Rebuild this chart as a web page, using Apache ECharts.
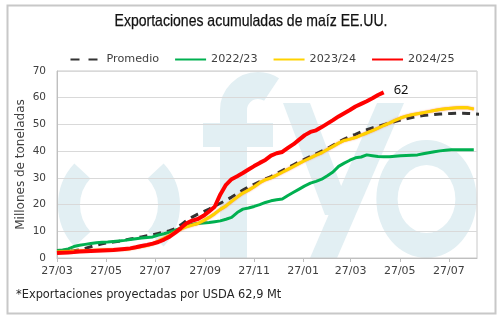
<!DOCTYPE html>
<html>
<head>
<meta charset="utf-8">
<script src="https://cdn.jsdelivr.net/npm/echarts@6/dist/echarts.min.js"></script>
<style>
  html, body { margin: 0; padding: 0; background: #fff; }
  .layer { position: absolute; left: 0; top: 0; width: 502px; height: 322px; }
</style>
</head>
<body>
<div id="logo" class="layer"></div>
<div id="chart" class="layer"></div>
<script>
// Weekly cumulative US corn exports (million tonnes), one value per week from startDate
const startDate = '2024-03-27';
const axisEnd = '2025-08-31';

const seriesNames = ['Promedio', '2022/23', '2023/24', '2024/25'];

const promedio = [
  2.5, 2.5, 2.6, 2.7, 3.0, 3.6, 4.2, 4.8, 5.3, 5.7,
  6.0, 6.3, 6.7, 7.1, 7.5, 7.9, 8.3, 8.7, 9.2, 9.7,
  10.2, 11.0, 12.4, 14.0, 15.3, 16.4, 17.3, 18.3, 19.4, 20.5,
  21.6, 22.8, 24.1, 25.4, 26.6, 27.6, 28.6, 29.6, 30.5, 31.6,
  32.7, 33.8, 34.9, 36.0, 37.0, 38.0, 39.0, 40.0, 41.0, 42.2,
  43.4, 44.5, 45.5, 46.3, 47.2, 48.0, 48.7, 49.3, 49.9, 50.5,
  51.1, 51.6, 52.1, 52.6, 53.0, 53.3, 53.5, 53.7, 53.9, 54.0,
  54.1, 54.2, 54.2, 54.1, 54.0, 53.8
];

const campaign2022 = [
  2.8, 3.0, 3.4, 4.3, 4.8, 5.1, 5.4, 5.7, 5.9, 6.0,
  6.2, 6.4, 6.6, 6.9, 7.2, 7.5, 7.7, 7.9, 8.6, 9.1,
  9.7, 10.4, 11.2, 12.0, 12.6, 12.9, 13.1, 13.3, 13.6, 13.9,
  14.5, 15.2, 17.0, 18.3, 18.7, 19.3, 20.0, 20.8, 21.4, 21.8,
  22.1, 23.4, 24.6, 25.8, 27.0, 28.0, 28.7, 29.5, 30.8, 32.2,
  34.3, 35.5, 36.6, 37.5, 37.8, 38.6, 38.3, 38.0, 37.9, 37.9,
  38.1, 38.3, 38.4, 38.5, 38.6, 39.0, 39.4, 39.8, 40.1, 40.3,
  40.5, 40.5, 40.5, 40.5, 40.5
];

const campaign2023 = [
  2.2, 2.3, 2.4, 2.5, 2.6, 2.7, 2.8, 2.9, 3.0, 3.0,
  3.1, 3.2, 3.3, 3.5, 3.9, 4.3, 4.7, 5.3, 6.3, 7.4,
  8.5, 9.7, 10.8, 11.7, 12.3, 12.9, 14.0, 15.2, 16.6, 18.2,
  19.5, 21.2, 22.8, 24.3, 25.4, 26.7, 28.2, 29.3, 30.0, 31.0,
  32.1, 33.2, 34.3, 35.4, 36.5, 37.5, 38.5, 39.4, 40.6, 41.8,
  43.0, 44.0, 44.5, 45.1, 46.0, 46.8, 47.7, 48.6, 49.6, 50.5,
  51.5, 52.4, 53.1, 53.6, 54.0, 54.4, 54.8, 55.2, 55.6, 55.9,
  56.1, 56.2, 56.3, 56.2, 55.8
];

const campaign2024 = [
  1.9, 2.0, 2.1, 2.2, 2.4, 2.5, 2.6, 2.7, 2.8, 2.9,
  3.0, 3.2, 3.4, 3.6, 4.0, 4.5, 4.9, 5.4, 6.0, 6.9,
  8.0, 9.5, 11.2, 13.0, 14.0, 14.6, 15.8, 17.4, 19.2, 23.8,
  27.4, 29.5, 30.6, 31.8, 33.1, 34.4, 35.6, 36.7, 38.3, 39.2,
  39.7, 41.2, 42.6, 44.3, 46.0, 47.2, 47.8, 49.0, 50.3, 51.6,
  53.0, 54.2, 55.4, 56.7, 57.7, 58.7, 59.8, 61.0, 62
];

const tickDates = ['2024-03-27', '2024-05-27', '2024-07-27', '2024-09-27', '2024-11-27',
                   '2025-01-27', '2025-03-27', '2025-05-27', '2025-07-27'];
const tickLabels = ['27/03', '27/05', '27/07', '27/09', '27/11', '27/01', '27/03', '27/05', '27/07'];

const titleText = 'Exportaciones acumuladas de maíz EE.UU.';
const footnote = '*Exportaciones proyectadas por USDA 62,9 Mt';

// x positions are counted in days since startDate
function dayOf(s) {
  const a = s.split('-').map(Number), b = startDate.split('-').map(Number);
  return Math.round((Date.UTC(a[0], a[1] - 1, a[2]) - Date.UTC(b[0], b[1] - 1, b[2])) / 86400000);
}
const weekly = values => values.map((v, i) => [7 * i, v]);
const tickDays = tickDates.map(dayOf);
function tickLabel(v) {
  let best = 0;
  tickDays.forEach((t, i) => { if (Math.abs(t - v) < Math.abs(tickDays[best] - v)) best = i; });
  return tickLabels[best];
}

// Faint "fyo" logo drawn on its own layer behind the plot
const wm = '#e2eff3';
const logo = echarts.init(document.getElementById('logo'), null, { renderer: 'canvas' });
logo.setOption({
  animation: false,
  backgroundColor: '#fff',
  graphic: [
    { type: 'arc', shape: { cx: 119, cy: 205, r: 50, startAngle: 2.39, endAngle: 3.89 },
      style: { stroke: wm, lineWidth: 22, fill: 'none' } },
    { type: 'arc', shape: { cx: 119, cy: 205, r: 50, startAngle: -0.75, endAngle: 0.75 },
      style: { stroke: wm, lineWidth: 22, fill: 'none' } },
    { type: 'rect', shape: { x: 220, y: 110, width: 27, height: 148 }, style: { fill: wm } },
    { type: 'rect', shape: { x: 203, y: 123, width: 70, height: 24 }, style: { fill: wm } },
    { type: 'arc', shape: { cx: 258, cy: 110, r: 24.5, startAngle: Math.PI, endAngle: 5.3 },
      style: { stroke: wm, lineWidth: 27, fill: 'none' } },
    { type: 'polygon', shape: { points: [[283, 103], [310, 103], [352, 215], [325, 215]] },
      style: { fill: wm } },
    { type: 'polygon', shape: { points: [[377, 103], [404, 103], [337, 258], [310, 258]] },
      style: { fill: wm } },
    { type: 'ring', x: 426.5, y: 199, scaleX: 0.85, shape: { cx: 0, cy: 0, r: 59, r0: 34 },
      style: { fill: wm } }
  ]
});

const chart = echarts.init(document.getElementById('chart'), null, { renderer: 'canvas' });
chart.setOption({
  animation: false,
  legend: {
    data: [
      { name: seriesNames[0], lineStyle: { type: [9, 9] } },
      seriesNames[1], seriesNames[2], seriesNames[3]
    ],
    left: 64.5,
    top: 49,
    itemWidth: 31,
    itemHeight: 10,
    itemGap: 15,
    itemStyle: { opacity: 0 },
    textStyle: { fontFamily: 'DejaVu Sans', fontSize: 11.2, color: '#404040' }
  },
  grid: {
    left: 57, right: 25, top: 71, bottom: 64,
    show: true, borderColor: '#c8c8c8', borderWidth: 1
  },
  xAxis: {
    type: 'value',
    min: 0,
    max: dayOf(axisEnd),
    axisLine: { show: true, lineStyle: { color: '#bfbfbf' } },
    axisTick: { show: true, customValues: tickDays, length: 4, lineStyle: { color: '#bfbfbf' } },
    axisLabel: {
      customValues: tickDays,
      formatter: tickLabel,
      fontFamily: 'DejaVu Sans', fontSize: 11, color: '#404040', margin: 8
    },
    splitLine: { show: false }
  },
  yAxis: {
    type: 'value',
    min: 0, max: 70, interval: 10,
    name: 'Millones de toneladas',
    nameLocation: 'middle',
    nameGap: 30,
    nameMoveOverlap: false,
    nameTextStyle: { fontFamily: 'DejaVu Sans', fontSize: 12, color: '#404040' },
    axisLine: { show: true, lineStyle: { color: '#bfbfbf' } },
    axisTick: { show: false },
    axisLabel: { fontFamily: 'DejaVu Sans', fontSize: 10.5, color: '#404040', margin: 11 },
    splitLine: { lineStyle: { color: '#d9d9d9' } }
  },
  graphic: [
    { type: 'rect', left: 5, top: 3, shape: { width: 488, height: 308 },
      style: { fill: 'none', stroke: '#c8c8c8', lineWidth: 2 } },
    { type: 'text', x: 251, y: 21, scaleX: 0.825,
      style: { text: titleText, font: '17px "Liberation Sans"', fill: '#111',
               stroke: '#111', lineWidth: 0.25,
               textAlign: 'center', textVerticalAlign: 'middle', verticalAlign: 'middle' } },
    { type: 'text', left: 16, top: 290,
      style: { text: footnote, font: '11.4px "DejaVu Sans"', fill: '#262626' } }
  ],
  series: [
    {
      name: seriesNames[0], type: 'line', data: weekly(promedio), symbol: 'none',
      lineStyle: { color: '#333333', width: 3, type: [8, 6] }, itemStyle: { color: '#333333' }
    },
    {
      name: seriesNames[1], type: 'line', data: weekly(campaign2022), symbol: 'none',
      lineStyle: { color: '#00b050', width: 3 }, itemStyle: { color: '#00b050' }
    },
    {
      name: seriesNames[2], type: 'line', data: weekly(campaign2023), symbol: 'none',
      lineStyle: { color: '#ffd200', width: 3, shadowColor: 'rgba(255,80,0,0.7)', shadowBlur: 1.5 },
      itemStyle: { color: '#ffd200' }
    },
    {
      name: seriesNames[3], type: 'line', data: weekly(campaign2024), symbol: 'none',
      lineStyle: { color: '#ff0000', width: 4 }, itemStyle: { color: '#ff0000' },
      endLabel: {
        show: true, distance: 10, offset: [0, -2],
        formatter: p => String(p.value[1]),
        fontFamily: 'Noto Sans', fontSize: 13, color: '#111'
      }
    }
  ]
});
</script>
</body>
</html>
